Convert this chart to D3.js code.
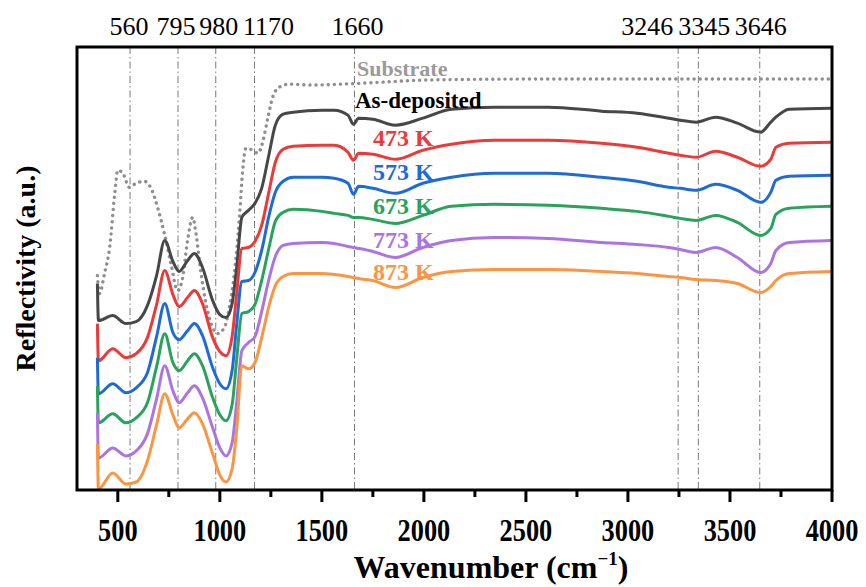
<!DOCTYPE html>
<html lang="en">

<head>
    <meta charset="utf-8">
    <style>
        body { margin: 0; background: #fff; }
        text { font-family: "Liberation Serif", "Times New Roman", serif; }
    </style>
</head>

<body>
    <script src="https://d3js.org/d3.v7.min.js"></script>
    <div id="chart"></div>
    <script>
        // shared wavenumber grid (cm-1) for the film spectra
        var wavenumber = [400, 405, 475, 540, 590, 645, 690, 730, 770, 800, 842, 875, 915, 965, 1000, 1030, 1060, 1082,
            1108, 1140, 1172, 1205, 1240, 1272, 1310, 1360, 1500, 1560, 1628, 1655, 1680, 1750, 1860, 1995, 2135, 2345,
            2610, 2870, 3045, 3200, 3256, 3334, 3430, 3536, 3650, 3700, 3725, 3790, 4000];

        var asDeposited = [2.06, 1.69, 1.74, 1.66, 1.68, 1.84, 2.14, 2.49, 2.28, 2.18, 2.29, 2.36, 2.22, 1.89, 1.75, 1.72, 1.86, 2.21,
            2.72, 2.79, 2.86, 3.01, 3.34, 3.64, 3.75, 3.77, 3.79, 3.79, 3.74, 3.65, 3.71, 3.70, 3.64, 3.71, 3.80, 3.82,
            3.82, 3.78, 3.76, 3.71, 3.69, 3.67, 3.72, 3.66, 3.57, 3.67, 3.72, 3.80, 3.81];
        var k473 = [1.66, 1.29, 1.41, 1.32, 1.36, 1.52, 1.85, 2.19, 1.95, 1.83, 1.92, 1.99, 1.86, 1.52, 1.38, 1.34, 1.53, 1.95,
            2.41, 2.42, 2.48, 2.64, 2.97, 3.27, 3.40, 3.43, 3.44, 3.44, 3.37, 3.29, 3.36, 3.35, 3.30, 3.39, 3.45, 3.49,
            3.49, 3.46, 3.42, 3.36, 3.34, 3.32, 3.38, 3.32, 3.23, 3.30, 3.42, 3.46, 3.47];
        var k573 = [1.32, 0.96, 1.06, 0.97, 1.02, 1.17, 1.53, 1.86, 1.57, 1.50, 1.59, 1.66, 1.54, 1.22, 1.06, 1.01, 1.19, 1.64,
            2.08, 2.09, 2.17, 2.39, 2.73, 2.97, 3.08, 3.12, 3.12, 3.11, 3.06, 2.95, 3.03, 3.01, 2.96, 3.06, 3.12, 3.16,
            3.16, 3.12, 3.08, 3.02, 3.01, 2.99, 3.05, 2.99, 2.87, 2.97, 3.09, 3.13, 3.14];
        var k673 = [1.04, 0.67, 0.76, 0.67, 0.72, 0.87, 1.23, 1.56, 1.27, 1.19, 1.29, 1.36, 1.24, 0.92, 0.75, 0.69, 0.85, 1.29,
            1.76, 1.78, 1.85, 2.09, 2.41, 2.68, 2.77, 2.80, 2.78, 2.76, 2.74, 2.72, 2.72, 2.70, 2.66, 2.74, 2.83, 2.85,
            2.84, 2.81, 2.78, 2.73, 2.71, 2.69, 2.74, 2.67, 2.54, 2.61, 2.75, 2.81, 2.83];
        var k773 = [0.77, 0.32, 0.42, 0.34, 0.39, 0.56, 0.91, 1.24, 0.99, 0.87, 0.97, 1.04, 0.92, 0.62, 0.42, 0.34, 0.47, 0.86,
            1.39, 1.47, 1.53, 1.78, 2.10, 2.33, 2.44, 2.46, 2.47, 2.46, 2.43, 2.42, 2.41, 2.38, 2.32, 2.42, 2.49, 2.52,
            2.51, 2.47, 2.45, 2.42, 2.40, 2.37, 2.42, 2.32, 2.17, 2.26, 2.39, 2.47, 2.49];
        var k873 = [0.46, 0.01, 0.17, 0.06, 0.08, 0.29, 0.65, 0.96, 0.75, 0.62, 0.71, 0.77, 0.66, 0.36, 0.15, 0.08, 0.21, 0.59,
            1.24, 1.21, 1.27, 1.52, 1.83, 2.04, 2.13, 2.16, 2.16, 2.15, 2.13, 2.12, 2.11, 2.09, 2.02, 2.12, 2.18, 2.20,
            2.20, 2.18, 2.16, 2.13, 2.12, 2.10, 2.09, 2.06, 1.97, 2.03, 2.09, 2.16, 2.18];

        // bare substrate, own grid
        var substrateWn = [400, 410, 435, 460, 485, 500, 525, 556, 589, 630, 663, 695, 728, 760, 793, 818, 842, 867, 883, 908,
            932, 965, 989, 1022, 1047, 1071, 1096, 1112, 1128, 1161, 1186, 1210, 1235, 1259, 1292, 1341, 1450, 1600, 1800,
            2000, 2500, 3000, 3500, 4000];
        var substrate = [2.14, 1.96, 2.16, 2.42, 2.96, 3.19, 3.16, 3.02, 3.06, 3.08, 3.01, 2.82, 2.56, 2.26, 1.99, 2.12, 2.49,
            2.72, 2.56, 2.16, 1.86, 1.62, 1.56, 1.62, 1.82, 2.16, 2.72, 3.19, 3.41, 3.39, 3.36, 3.47, 3.71, 3.92, 4.02, 4.05,
            4.04, 4.05, 4.07, 4.09, 4.10, 4.10, 4.10, 4.10];

        var seriesNames = ["As-deposited", "473 K", "573 K", "673 K", "773 K", "873 K"];
        var seriesValues = [asDeposited, k473, k573, k673, k773, k873];
        var seriesColors = ["#474747", "#ec3a3a", "#1f6bd6", "#29a35c", "#ac74e0", "#fb9543"];
        var labelColors = ["#000000", "#ec3a3a", "#1f6bd6", "#29a35c", "#ac74e0", "#fb9543"];

        var bandPositions = [560, 795, 980, 1170, 1660, 3246, 3345, 3646];
        var xTicks = [500, 1000, 1500, 2000, 2500, 3000, 3500, 4000];

        var width = 866, height = 587;
        var margin = { left: 77, right: 34, top: 47, bottom: 97 };

        var svg = d3.select("#chart").append("svg")
            .attr("width", width)
            .attr("height", height)

        var x = d3.scaleLinear().domain([300, 4000]).range([margin.left, width - margin.right]);
        var y = d3.scaleLinear().domain([0, 4.42]).range([height - margin.bottom, margin.top]);

        // band marker lines (dash-dot)
        svg.selectAll(".band")
            .data(bandPositions)
            .enter()
            .append("line")
            .attr("x1", function (d) { return x(d) })
            .attr("x2", function (d) { return x(d) })
            .attr("y1", margin.top)
            .attr("y2", height - margin.bottom)
            .style("stroke", "#7a7a7a")
            .style("stroke-width", 1)
            .style("stroke-dasharray", "7,3,1.5,3")

        // labels above the frame, nudged sideways so they don't collide
        var bandNudge = [-1, -2, 3, 14, 3, -31, 6, 1];
        svg.selectAll(".bandLabel")
            .data(bandPositions)
            .enter()
            .append("text")
            .attr("x", function (d, i) { return x(d) + bandNudge[i] })
            .attr("y", 35)
            .attr("text-anchor", "middle")
            .style("font-size", "26px")
            .text(function (d) { return d })

        var line = d3.line()
            .x(function (d) { return x(d[0]) })
            .y(function (d) { return y(d[1]) })
            .curve(d3.curveMonotoneX)

        // substrate, dotted
        svg.append("path")
            .datum(substrateWn.map(function (w, i) { return [w, substrate[i]] }))
            .attr("d", line)
            .style("fill", "none")
            .style("stroke", "#8f8f8f")
            .style("stroke-width", 3.4)
            .style("stroke-linecap", "round")
            .style("stroke-dasharray", "0.1,6")

        svg.selectAll(".spectrum")
            .data(seriesValues)
            .enter()
            .append("path")
            .attr("d", function (vals) { return line(wavenumber.map(function (w, i) { return [w, vals[i]] })) })
            .style("fill", "none")
            .style("stroke", function (d, i) { return seriesColors[i] })
            .style("stroke-width", 3)
            .style("stroke-linejoin", "round")

        // curve labels
        svg.append("text").attr("x", 357).attr("y", 76).text("Substrate")
            .style("font-size", "22px").style("font-weight", "bold").style("fill", "#9a9a9a")
        var labelY = [108, 146, 180, 214, 248, 280];
        var labelX = [355, 373, 373, 373, 373, 373];
        var labelSize = [23, 24, 24, 24, 24, 24];
        svg.selectAll(".seriesLabel")
            .data(seriesNames)
            .enter()
            .append("text")
            .attr("x", function (d, i) { return labelX[i] })
            .attr("y", function (d, i) { return labelY[i] })
            .style("font-size", function (d, i) { return labelSize[i] + "px" })
            .style("font-weight", "bold")
            .style("fill", function (d, i) { return labelColors[i] })
            .text(function (d) { return d })

        // frame
        svg.append("rect")
            .attr("x", margin.left)
            .attr("y", margin.top)
            .attr("width", width - margin.left - margin.right)
            .attr("height", height - margin.top - margin.bottom)
            .style("fill", "none")
            .style("stroke", "#000")
            .style("stroke-width", 3)

        // bottom axis: major + minor ticks
        var xAxis = svg.append("g")
            .attr("transform", "translate(0," + (height - margin.bottom) + ")")
        xAxis.selectAll(".minor")
            .data(d3.range(750, 4000, 500))
            .enter()
            .append("line")
            .attr("x1", function (d) { return x(d) })
            .attr("x2", function (d) { return x(d) })
            .attr("y1", 0).attr("y2", 7)
            .style("stroke", "#000").style("stroke-width", 3)
        xAxis.selectAll(".major")
            .data(xTicks)
            .enter()
            .append("line")
            .attr("x1", function (d) { return x(d) })
            .attr("x2", function (d) { return x(d) })
            .attr("y1", 0).attr("y2", 12)
            .style("stroke", "#000").style("stroke-width", 3)
        xAxis.selectAll(".tickLabel")
            .data(xTicks)
            .enter()
            .append("text")
            .attr("transform", function (d) { return "translate(" + x(d) + ",51) scale(0.85,1)" })
            .attr("text-anchor", "middle")
            .style("font-size", "31px")
            .style("font-weight", "bold")
            .text(function (d) { return d })

        // axis titles
        var xTitle = svg.append("text")
            .attr("transform", "translate(491,578)")
            .attr("text-anchor", "middle")
            .style("font-size", "32px")
            .style("font-weight", "bold")
        xTitle.append("tspan").text("Wavenumber (cm")
        xTitle.append("tspan").attr("dy", -13).style("font-size", "19px").text("\u22121")
        xTitle.append("tspan").attr("dy", 13).text(")")

        svg.append("text")
            .attr("transform", "translate(35," + ((margin.top + height - margin.bottom) / 2) + ") rotate(-90)")
            .attr("text-anchor", "middle")
            .style("font-size", "28px")
            .style("font-weight", "bold")
            .text("Reflectivity (a.u.)")
    </script>
</body>

</html>
